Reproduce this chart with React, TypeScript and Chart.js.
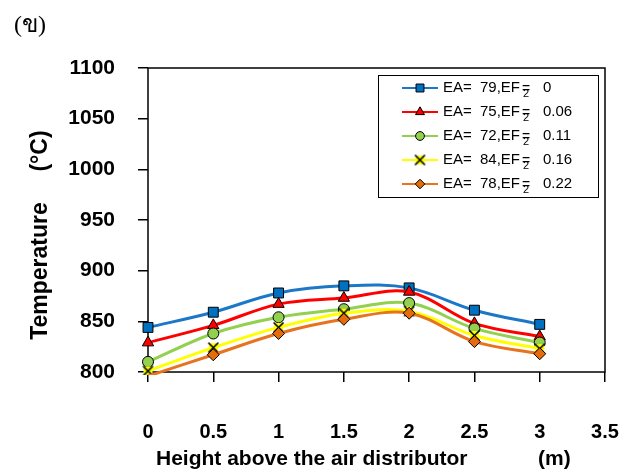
import React, { useEffect, useRef } from 'react';
import { Chart, registerables } from 'chart.js';

Chart.register(...registerables);

const heights = [0, 0.5, 1, 1.5, 2, 2.5, 3];
const eaValues = ['79', '75', '72', '84', '78'];
const efValues = ['0', '0.06', '0.11', '0.16', '0.22'];
const tempEF000 = [844, 859, 878, 885, 883, 861, 847];
const tempEF006 = [829, 846, 867, 873, 879, 848, 835];
const tempEF011 = [810, 838, 854, 862, 868, 843, 829];
const tempEF016 = [801, 824, 844, 858, 860, 836, 823];
const tempEF022 = [796, 817, 838, 852, 858, 830, 818];
const seriesValues = [tempEF000, tempEF006, tempEF011, tempEF016, tempEF022];

const yTitleMain = 'Temperature';
const yTitleUnit = '(°C)';
const xTitleMain = 'Height above the air distributor';
const xTitleUnit = '(m)';
const panelLabel = '(ข)';

const lineColors = ['#1C78C6', '#FF0000', '#92D050', '#FFFF00', '#E8731E'];
const markerFills = ['#0070C0', '#FF0000', '#92D050', '#FFFF00', '#E46C0A'];
const markerStyles = ['rect', 'triangle', 'circle', 'xbox', 'rectRot'];
const markerRadii = [7, 6.5, 5.5, 6, 6];

const FONT = '"Liberation Sans", Arial, sans-serif';

function makeXMarker(): HTMLCanvasElement {
  const c = document.createElement('canvas');
  c.width = 13;
  c.height = 13;
  const g = c.getContext('2d')!;
  g.fillStyle = '#FFFF00';
  g.fillRect(2, 2, 9, 9);
  g.strokeStyle = '#000';
  g.lineWidth = 1.6;
  g.beginPath();
  g.moveTo(1.5, 1.5);
  g.lineTo(11.5, 11.5);
  g.moveTo(11.5, 1.5);
  g.lineTo(1.5, 11.5);
  g.stroke();
  return c;
}

function drawMarker(ctx: CanvasRenderingContext2D, style: string, x: number, y: number, r: number, fill: string, xImg: HTMLCanvasElement) {
  ctx.save();
  ctx.fillStyle = fill;
  ctx.strokeStyle = '#000';
  ctx.lineWidth = 1;
  ctx.beginPath();
  if (style === 'rect') {
    const s = Math.SQRT1_2 * r;
    ctx.rect(x - s, y - s, 2 * s, 2 * s);
  } else if (style === 'triangle') {
    ctx.moveTo(x, y - r);
    ctx.lineTo(x + r * 0.866, y + r * 0.5);
    ctx.lineTo(x - r * 0.866, y + r * 0.5);
    ctx.closePath();
  } else if (style === 'circle') {
    ctx.arc(x, y, r, 0, Math.PI * 2);
  } else if (style === 'rectRot') {
    ctx.moveTo(x, y - r);
    ctx.lineTo(x + r, y);
    ctx.lineTo(x, y + r);
    ctx.lineTo(x - r, y);
    ctx.closePath();
  }
  if (style === 'xbox') {
    ctx.drawImage(xImg, x - xImg.width / 2, y - xImg.height / 2);
  } else {
    ctx.fill();
    ctx.stroke();
  }
  ctx.restore();
}

export default function App() {
  const canvasRef = useRef<HTMLCanvasElement | null>(null);

  useEffect(() => {
    if (!canvasRef.current) return;
    const xImg = makeXMarker();

    const frame = {
      id: 'frame',
      beforeDatasetsDraw(chart: any) {
        const { ctx, chartArea } = chart;
        ctx.save();
        ctx.strokeStyle = '#000';
        ctx.lineWidth = 1.5;
        ctx.strokeRect(chartArea.left, chartArea.top, chartArea.right - chartArea.left, chartArea.bottom - chartArea.top);
        ctx.restore();
      },
    };

    const titles = {
      id: 'titles',
      afterDraw(chart: any) {
        const ctx = chart.ctx as CanvasRenderingContext2D;
        ctx.save();
        ctx.fillStyle = '#000';
        ctx.font = `bold 21px ${FONT}`;
        ctx.textBaseline = 'middle';
        ctx.textAlign = 'left';
        ctx.fillText(xTitleMain, 156, 459);
        ctx.fillText(xTitleUnit, 538, 459);
        ctx.font = `bold 23px ${FONT}`;
        ctx.translate(41, 0);
        ctx.rotate(-Math.PI / 2);
        ctx.textAlign = 'center';
        ctx.fillText(yTitleMain, -271, 0);
        ctx.fillText(yTitleUnit, -151, 0);
        ctx.restore();
      },
    };

    const legendBox = {
      id: 'legendBox',
      afterDraw(chart: any) {
        const ctx = chart.ctx as CanvasRenderingContext2D;
        const bx = 378, by = 75, bw = 220, bh = 122;
        ctx.save();
        ctx.fillStyle = '#fff';
        ctx.fillRect(bx, by, bw, bh);
        ctx.strokeStyle = '#000';
        ctx.lineWidth = 1;
        ctx.strokeRect(bx + 0.5, by + 0.5, bw, bh);
        const rowY = [88, 112, 136, 160, 184];
        for (let i = 0; i < eaValues.length; i++) {
          const y = rowY[i];
          ctx.strokeStyle = lineColors[i];
          ctx.lineWidth = 2;
          ctx.beginPath();
          ctx.moveTo(402, y);
          ctx.lineTo(438, y);
          ctx.stroke();
          drawMarker(ctx, markerStyles[i], 420, y, markerRadii[i] * 0.8, markerFills[i], xImg);
          ctx.fillStyle = '#000';
          ctx.textBaseline = 'middle';
          ctx.textAlign = 'left';
          ctx.font = `15px ${FONT}`;
          ctx.fillText('EA=', 443, y);
          ctx.fillText(eaValues[i] + ',EF', 480, y);
          ctx.font = `11px ${FONT}`;
          ctx.fillText('2', 523, y + 6);
          ctx.font = `14px ${FONT}`;
          ctx.fillText('=', 522, y + 1);
          ctx.font = `15px ${FONT}`;
          ctx.fillText(efValues[i], 543, y);
        }
        ctx.restore();
      },
    };

    const datasets = seriesValues.map((vals, i) => ({
      label: `EA= ${eaValues[i]},EF2 ${efValues[i]}`,
      data: heights.map((h, j) => ({ x: h, y: vals[j] })),
      borderColor: lineColors[i],
      backgroundColor: markerFills[i],
      borderWidth: 3,
      tension: 0.35,
      pointStyle: i === 3 ? xImg : markerStyles[i],
      pointRadius: (c: any) => (c.raw && c.raw.y < 800 ? 0 : markerRadii[i]),
      pointBorderColor: '#000',
      pointBorderWidth: 1,
      pointBackgroundColor: markerFills[i],
      order: seriesValues.length - 1 - i,
      clip: { left: 12, top: 12, right: 12, bottom: 3 },
    }));

    const chart = new Chart(canvasRef.current, {
      type: 'line',
      data: { datasets },
      options: {
        animation: false,
        responsive: false,
        maintainAspectRatio: false,
        layout: { padding: { left: 0, top: 68, right: 30, bottom: 0 } },
        plugins: { legend: { display: false }, tooltip: { enabled: false }, title: { display: false } },
        scales: {
          x: {
            type: 'linear',
            min: 0,
            max: 3.5,
            ticks: {
              stepSize: 0.5,
              color: '#000',
              font: { family: FONT, size: 20, weight: 'bold' },
              padding: 38,
              maxRotation: 0,
              autoSkip: false,
              callback: (v: any) => String(Number(v)),
            },
            grid: { drawOnChartArea: false, drawTicks: true, tickLength: 10, color: '#000', lineWidth: 1.5 },
            border: { display: false },
            afterFit: (s: any) => {
              s.height = 103;
              s.paddingLeft = 0;
              s.paddingRight = 16;
            },
          },
          y: {
            type: 'linear',
            min: 800,
            max: 1100,
            ticks: {
              stepSize: 50,
              color: '#000',
              font: { family: FONT, size: 21, weight: 'bold' },
              padding: 23,
              callback: (v: any) => String(Number(v)),
            },
            grid: { drawOnChartArea: false, drawTicks: true, tickLength: 10, color: '#000', lineWidth: 1.5 },
            border: { display: false },
            afterFit: (s: any) => {
              s.width = 148;
              s.paddingTop = 0;
              s.paddingBottom = 0;
            },
          },
        },
      },
      plugins: [frame, titles, legendBox],
    });
    return () => chart.destroy();
  }, []);

  return (
    <div style={{ position: 'fixed', left: 0, top: 0, width: 635, height: 475, background: '#fff' }}>
      <canvas ref={canvasRef} width={635} height={475} style={{ display: 'block', width: 635, height: 475 }} />
      <span style={{ position: 'absolute', left: 14, top: 4, fontSize: 24, fontFamily: 'serif', color: '#000' }}>{panelLabel}</span>
    </div>
  );
}
